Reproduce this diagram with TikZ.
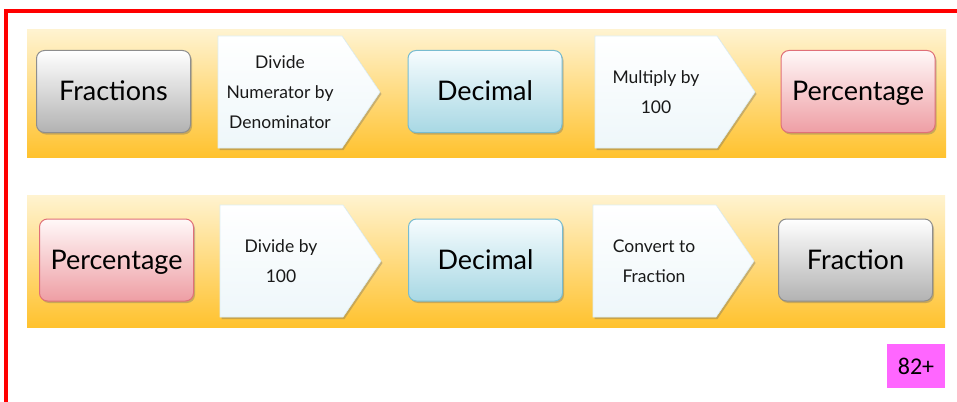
\documentclass[tikz,border=0pt]{standalone}
\usepackage{fontspec}
\setmainfont{Lato}
\newfontfamily\boxfont{Carlito}
\usetikzlibrary{shadows}
\pgfdeclarelayer{background}
\pgfdeclarelayer{back2}
\pgfsetlayers{back2,background,main}
\definecolor{bandtop}{HTML}{FFF3D0}
\definecolor{bandbot}{HTML}{FFC22E}
\definecolor{grytop}{HTML}{FFFFFF}
\definecolor{grybot}{HTML}{B2B2B2}
\definecolor{grybrd}{HTML}{8E8E8E}
\definecolor{blutop}{HTML}{F6FCFE}
\definecolor{blubot}{HTML}{A8D8E4}
\definecolor{blubrd}{HTML}{78BCD0}
\definecolor{pnktop}{HTML}{FFF8F8}
\definecolor{pnkbot}{HTML}{EE9EA4}
\definecolor{pnkbrd}{HTML}{E07078}
\definecolor{chvtop}{HTML}{FFFFFF}
\definecolor{chvbot}{HTML}{EEF7FA}
\definecolor{chvbrd}{HTML}{DDEEF3}
\definecolor{conred}{HTML}{D41A00}
\definecolor{frame}{HTML}{FF0000}
\definecolor{badge}{HTML}{FF66FF}
\tikzset{
  term/.style={rounded corners=8pt, minimum width=154pt, minimum height=82pt,
     font=\fontsize{27}{32}\selectfont, line width=1pt, inner sep=0pt,
     text height=21pt, text depth=3pt,
     drop shadow={shadow xshift=1.5pt, shadow yshift=-2pt, opacity=0.35, fill=black!60}},
  grayterm/.style={term, draw=grybrd, top color=grytop, bottom color=grybot},
  blueterm/.style={term, draw=blubrd, top color=blutop, bottom color=blubot},
  pinkterm/.style={term, draw=pnkbrd, top color=pnktop, bottom color=pnkbot},
  chvtext/.style={minimum width=124pt, minimum height=112pt, align=center,
     font=\fontsize{17.5}{30}\selectfont, inner sep=0pt, text=black!90},
  chvshape/.style={draw=chvbrd, line width=0.6pt, top color=chvtop, bottom color=chvbot,
     drop shadow={shadow xshift=1.5pt, shadow yshift=-2pt, opacity=0.35, fill=black!60}},
  link/.style={draw=conred, line width=8pt},
  band/.style={top color=bandtop, bottom color=bandbot, draw=none}
}
\newcommand{\chevron}[3]{% left x, center y, right tip x
  \path[chvshape] (#1,#2-56) -- (#3-38,#2-56) -- (#3,#2) -- (#3-38,#2+56) -- (#1,#2+56) -- cycle;}
\begin{document}
\begin{tikzpicture}[x=1pt,y=-1pt]
\useasboundingbox (0,0) rectangle (957,401);
\fill[white] (0,0) rectangle (957,401);
% frame
\draw[frame, line width=4pt] (6,403) -- (6,11) -- (959,11);
% bands
\shade[band] (27,30) rectangle (946,157);
\shade[band] (27,195) rectangle (945,327);

% row 1
\node[grayterm] (fr1) at (113.5,91.5) {Fractions};
\chevron{218}{92}{380}
\node[chvtext] (op1) at (280,92) {Divide\\Numerator by\\Denominator};
\coordinate (op1tip) at (380,92);
\node[blueterm] (de1) at (485,91.5) {Decimal};
\chevron{595}{92}{755}
\node[chvtext] (op2) at (656,92) {Multiply by\\100};
\coordinate (op2tip) at (755,92);
\node[pinkterm] (pc1) at (858,91.5) {Percentage};

% row 2
\node[pinkterm] (pc2) at (116.5,260) {Percentage};
\chevron{220}{261}{381}
\node[chvtext] (op3) at (281,261) {Divide by\\100};
\coordinate (op3tip) at (381,261);
\node[blueterm] (de2) at (485.5,260) {Decimal};
\chevron{593}{261}{754}
\node[chvtext] (op4) at (654,261) {Convert to\\Fraction};
\coordinate (op4tip) at (754,261);
\node[grayterm] (fr2) at (855.5,260) {Fraction};

\begin{pgfonlayer}{background}
  \path[link] (fr1.center) -- (op1.center);
  \path[link] (op1tip) -- (de1.center);
  \path[link] (de1.center) -- (op2.center);
  \path[link] (op2tip) -- (pc1.center);
  \path[link] (pc2.center) -- (op3.center);
  \path[link] (op3tip) -- (de2.center);
  \path[link] (de2.center) -- (op4.center);
  \path[link] (op4tip) -- (fr2.center);
\end{pgfonlayer}

% badge
\node[fill=badge, minimum width=58pt, minimum height=44pt, inner sep=0pt,
  font=\boxfont\fontsize{24}{26}\selectfont] (badge) at (916,366) {82+};
\end{tikzpicture}
\end{document}
